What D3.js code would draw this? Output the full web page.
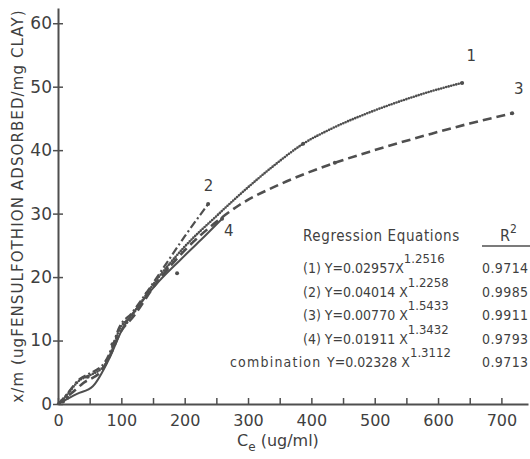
<!DOCTYPE html>
<html>
<head>
<meta charset="utf-8">
<script src="https://cdn.jsdelivr.net/npm/d3@7"></script>
<style>
  body { margin: 0; background: #fff; }
  svg { display: block; }
  text { fill: #3f3f3f; font-family: "DejaVu Sans Condensed", "DejaVu Sans", sans-serif; }
</style>
</head>
<body>
<div id="chart"></div>
<script>
// curve readings, x = Ce (ug/ml), y = x/m
var curve1 = [[0,0],[11,1.1],[35,3.8],[50,4.5],[74,6.2],[87,9.0],[95,11.3],[117,14.0],[153,19.2],[200,24.8],[250,29.6],[287,33.0],[340,37.5],[387,41.0],[430,43.3],[488,45.8],[540,47.7],[590,49.3],[638,50.6]];
var curve2 = [[0,0],[11,1.2],[35,4.0],[50,4.8],[74,6.6],[87,9.4],[95,11.7],[117,14.4],[166,21.4],[200,26.4],[237,31.5]];
var curve3 = [[0,0],[20,1.6],[40,3.3],[70,5.4],[85,8.2],[97,11.0],[120,13.9],[155,19.0],[200,24.2],[250,28.7],[287,31.4],[350,34.6],[437,38.0],[500,40.0],[590,42.6],[650,44.2],[717,45.8]];
var curve4 = [[0,0],[30,1.6],[55,2.8],[82,7.4],[101,11.7],[130,15.8],[160,19.4],[193,22.7],[225,25.8],[259,29.2]];

// single measured points that stand out from the lines
var points = [[638,50.6],[717,45.8],[387,41.0],[437,38.0],[237,31.5],[259,29.2],[188,20.6],[8,0.4],[15,1.0],[47,4.3],[86,9.4],[108,12.9],[140,17.4],[172,21.3]];

var curveNames = ["1", "2", "3", "4"];
var nameSpots = [[645,54.0],[230,33.5],[720,48.8],[262,26.4]];

var xTicks = d3.range(0, 701, 50);
var xLabels = [0, 100, 200, 300, 400, 500, 600, 700];
var yTicks = [0, 10, 20, 30, 40, 50, 60];

var eqIds = ["(1)", "(2)", "(3)", "(4)", "combination"];
var eqCoefs = ["0.02957", "0.04014", "0.00770", "0.01911", "0.02328"];
var eqExps = ["1.2516", "1.2258", "1.5433", "1.3432", "1.3112"];
var r2Values = ["0.9714", "0.9985", "0.9911", "0.9793", "0.9713"];

var width = 530, height = 459;
var ink = "#4f4f4f";

var svg = d3.select("#chart").append("svg")
    .attr("width", width)
    .attr("height", height);

var x = d3.scaleLinear().domain([0, 742]).range([58, 528]);
var y = d3.scaleLinear().domain([0, 62.4]).range([404, 8]);

// axes
var xAxis = d3.axisBottom(x)
    .tickValues(xTicks)
    .tickSizeInner(-6)
    .tickSizeOuter(0)
    .tickPadding(11)
    .tickFormat(function(d) { return xLabels.indexOf(d) >= 0 ? d : ""; });

var gx = svg.append("g").attr("transform", "translate(0,404)").call(xAxis);
gx.select(".domain").attr("stroke", ink).attr("stroke-width", 2);
gx.selectAll(".tick line").attr("stroke", ink).attr("stroke-width", 1.5);
gx.selectAll(".tick text")
  .attr("fill", "#3f3f3f")
  .style("font-family", '"DejaVu Sans", sans-serif')
  .style("font-size", "16px");

var yAxis = d3.axisLeft(y)
    .tickValues(yTicks)
    .tickSizeInner(5)
    .tickSizeOuter(0)
    .tickPadding(5);

var gy = svg.append("g").attr("transform", "translate(58,0)").call(yAxis);
gy.select(".domain").attr("stroke", ink).attr("stroke-width", 2);
gy.selectAll(".tick line").attr("stroke", ink).attr("stroke-width", 1.5).attr("x2", 5).attr("x1", -5);
gy.selectAll(".tick text")
  .attr("fill", "#3f3f3f")
  .attr("x", -6)
  .style("font-family", '"DejaVu Sans", sans-serif')
  .style("font-size", "17px");

// axis titles
svg.append("text")
   .attr("transform", "translate(23,206) rotate(-90)")
   .attr("text-anchor", "middle")
   .style("font-family", '"DejaVu Sans", sans-serif')
   .style("font-size", "15px")
   .style("letter-spacing", "1.1px")
   .text("x/m (ugFENSULFOTHION ADSORBED/mg CLAY)");

var xt = svg.append("text")
   .attr("x", 237)
   .attr("y", 446)
   .style("font-family", '"DejaVu Sans", sans-serif')
   .style("font-size", "16px");
xt.append("tspan").text("C");
xt.append("tspan").attr("dy", 5).style("font-size", "12px").text("e");
xt.append("tspan").attr("dy", -5).text(" (ug/ml)");

// curves
var line = d3.line()
    .x(function(d) { return x(d[0]); })
    .y(function(d) { return y(d[1]); })
    .curve(d3.curveMonotoneX);

svg.append("path").datum(curve4)
   .attr("d", line).attr("fill", "none")
   .attr("stroke", ink).attr("stroke-width", 2);

svg.append("path").datum(curve3)
   .attr("d", line).attr("fill", "none")
   .attr("stroke", ink).attr("stroke-width", 2.6)
   .attr("stroke-dasharray", "9,5");

svg.append("path").datum(curve2)
   .attr("d", line).attr("fill", "none")
   .attr("stroke", ink).attr("stroke-width", 2.2)
   .attr("stroke-dasharray", "8,3,2,3");

svg.append("path").datum(curve1)
   .attr("d", line).attr("fill", "none")
   .attr("stroke", ink).attr("stroke-width", 2.6)
   .attr("stroke-linecap", "round")
   .attr("stroke-dasharray", "0,2.6");

svg.selectAll("circle.pt")
   .data(points)
   .enter()
   .append("circle")
   .attr("class", "pt")
   .attr("cx", function(d) { return x(d[0]); })
   .attr("cy", function(d) { return y(d[1]); })
   .attr("r", 2)
   .attr("fill", ink);

svg.selectAll("text.cname")
   .data(curveNames)
   .enter()
   .append("text")
   .attr("class", "cname")
   .attr("x", function(d, i) { return x(nameSpots[i][0]); })
   .attr("y", function(d, i) { return y(nameSpots[i][1]); })
   .style("font-family", '"DejaVu Sans", sans-serif')
   .style("font-size", "15px")
   .text(function(d) { return d; });

// regression table
svg.append("text")
   .attr("x", 303).attr("y", 241)
   .style("font-size", "15px")
   .style("letter-spacing", "0.6px")
   .text("Regression  Equations");

var r2 = svg.append("text")
   .attr("x", 500).attr("y", 241)
   .style("font-size", "16px");
r2.append("tspan").text("R");
r2.append("tspan").attr("dy", -8).style("font-size", "12px").text("2");

svg.append("line")
   .attr("x1", 482).attr("x2", 530)
   .attr("y1", 246).attr("y2", 246)
   .attr("stroke", ink).attr("stroke-width", 1.5);

var rowY = d3.scaleLinear().domain([0, 4]).range([273, 367]);

eqIds.forEach(function(id, i) {
    var t = svg.append("text")
        .attr("y", rowY(i))
        .style("font-size", "14px");
    if (id === "combination") {
        svg.append("text")
           .attr("x", 230).attr("y", rowY(i))
           .style("font-size", "14px")
           .style("letter-spacing", "1.2px")
           .text("combination");
        t.attr("x", 327);
        t.append("tspan").text("Y=" + eqCoefs[i] + " X");
    } else {
        t.attr("x", 303);
        t.append("tspan").text(id + " Y=" + eqCoefs[i] + (i === 0 ? "X" : " X"));
    }
    t.append("tspan").attr("dy", -10).style("font-size", "13px").text(eqExps[i]);

    svg.append("text")
       .attr("x", 482).attr("y", rowY(i))
       .style("font-size", "14px")
       .style("letter-spacing", "0.4px")
       .text(r2Values[i]);
});
</script>
</body>
</html>
